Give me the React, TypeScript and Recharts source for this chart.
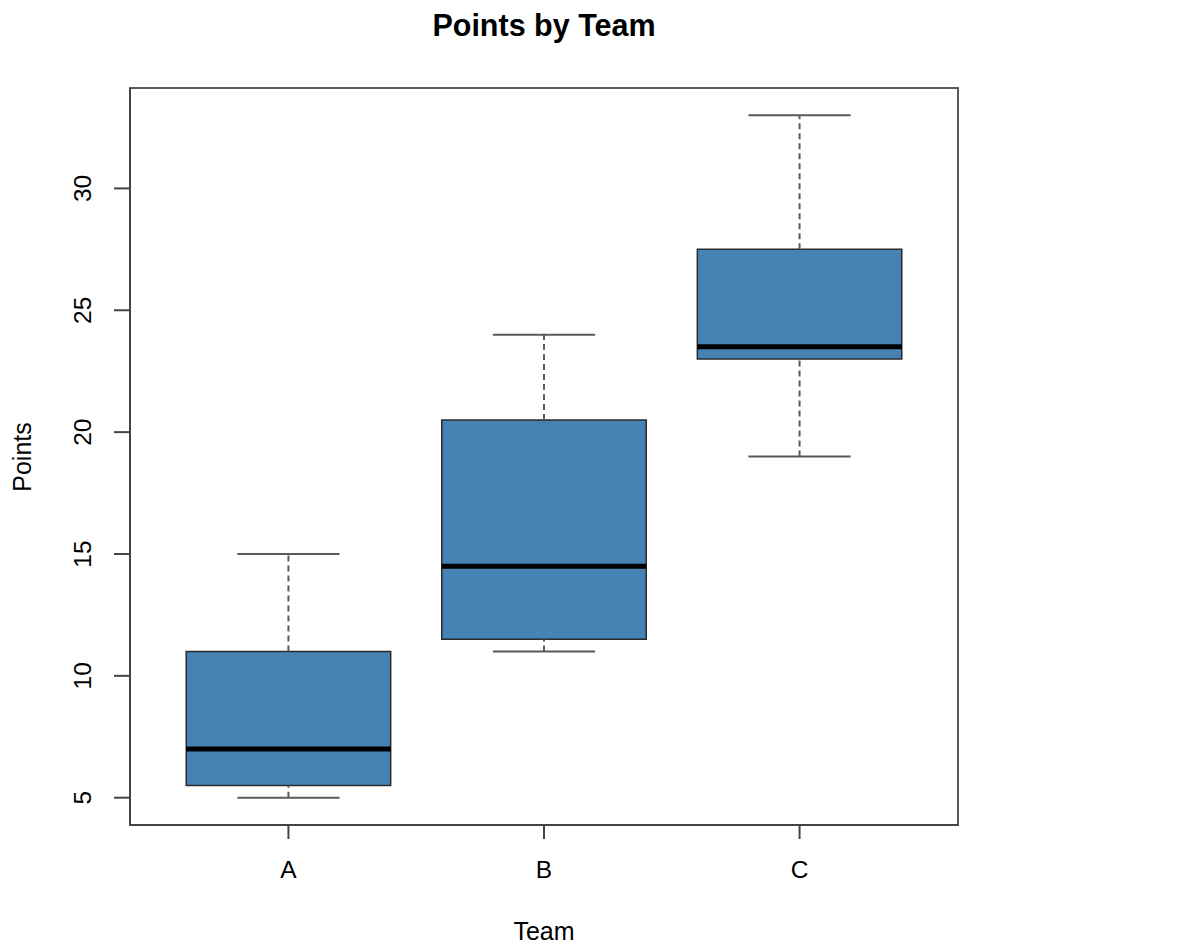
import React from 'react';
import {
  ComposedChart,
  XAxis,
  YAxis,
  ReferenceArea,
  ReferenceLine,
  Scatter,
  Customized,
} from 'recharts';

// ---- data ----
const teams = ['A', 'B', 'C'];
const mins = [5, 11, 19];
const q1s = [5.5, 11.5, 23];
const medians = [7, 14.5, 23.5];
const q3s = [11, 20.5, 27.5];
const maxs = [15, 24, 33];
const yTicks = [5, 10, 15, 20, 25, 30];
const xTicks = [1, 2, 3];

const data = teams.map((team, i) => ({
  x: i + 1,
  team,
  min: mins[i],
  q1: q1s[i],
  median: medians[i],
  q3: q3s[i],
  max: maxs[i],
}));

// ---- style ----
const FONT = '"Liberation Sans", Arial, Helvetica, sans-serif';
const BOX_FILL = '#4682B4';
const BOX_STROKE = '#2b2b2b';
const WHISKER = '#5a5a5a';
const FRAME = '#5a5a5a';
const BOX_HALF = 0.4;
const CAP_HALF = 0.2;
const X_DOMAIN: [number, number] = [0.38, 3.62];
const Y_DOMAIN: [number, number] = [3.88, 34.12];

const YTick = (props: any) => {
  const { y, payload } = props;
  const bx = 83;
  return (
    <text
      x={bx}
      y={y}
      transform={`rotate(-90, ${bx}, ${y})`}
      textAnchor="middle"
      fontSize={24.5}
      fontFamily={FONT}
      fill="#000"
    >
      {payload.value}
    </text>
  );
};

const XTick = (props: any) => {
  const { x, payload } = props;
  return (
    <text x={x} y={870} textAnchor="middle" fontSize={24.5} fontFamily={FONT} fill="#000">
      {teams[payload.value - 1]}
    </text>
  );
};

const Titles = () => (
  <g>
    <text x={536} y={28} textAnchor="middle" fontSize={30.5} fontWeight="bold" fontFamily={FONT} fill="#000">
      Points by Team
    </text>
    <text x={536} y={932} textAnchor="middle" fontSize={25} fontFamily={FONT} fill="#000">
      Team
    </text>
    <text
      x={23}
      y={449}
      transform="rotate(-90, 23, 449)"
      textAnchor="middle"
      fontSize={25}
      fontFamily={FONT}
      fill="#000"
    >
      Points
    </text>
  </g>
);

export default function App() {
  return (
    <ComposedChart
      width={1175}
      height={937}
      data={data}
      margin={{ top: 80, right: 225, left: 0, bottom: 0 }}
      style={{ background: '#fff' }}
    >
      <XAxis
        dataKey="x"
        type="number"
        domain={X_DOMAIN}
        ticks={xTicks}
        allowDataOverflow
        height={120}
        tickSize={14}
        tick={<XTick />}
        tickLine={{ stroke: '#444', strokeWidth: 2 }}
        axisLine={{ stroke: '#444', strokeWidth: 2 }}
      />
      <YAxis
        type="number"
        domain={Y_DOMAIN}
        ticks={yTicks}
        allowDataOverflow
        width={122}
        tickSize={16}
        tick={<YTick />}
        tickLine={{ stroke: '#444', strokeWidth: 2 }}
        axisLine={{ stroke: '#444', strokeWidth: 2 }}
      />
      <ReferenceArea
        x1={X_DOMAIN[0]}
        x2={X_DOMAIN[1]}
        y1={Y_DOMAIN[0]}
        y2={Y_DOMAIN[1]}
        fill="none"
        fillOpacity={0}
        stroke={FRAME}
        strokeWidth={2}
        ifOverflow="visible"
      />
      {data.map((d) => (
        <ReferenceArea
          key={`box-${d.team}`}
          x1={d.x - BOX_HALF}
          x2={d.x + BOX_HALF}
          y1={d.q1}
          y2={d.q3}
          fill={BOX_FILL}
          fillOpacity={1}
          stroke={BOX_STROKE}
          strokeWidth={1.5}
          ifOverflow="visible"
        />
      ))}
      {data.map((d) => (
        <ReferenceLine
          key={`wu-${d.team}`}
          segment={[{ x: d.x, y: d.q3 }, { x: d.x, y: d.max }]}
          stroke={WHISKER}
          strokeWidth={2}
          strokeDasharray="6 4"
          ifOverflow="visible"
        />
      ))}
      {data.map((d) => (
        <ReferenceLine
          key={`wl-${d.team}`}
          segment={[{ x: d.x, y: d.min }, { x: d.x, y: d.q1 }]}
          stroke={WHISKER}
          strokeWidth={2}
          strokeDasharray="6 4"
          ifOverflow="visible"
        />
      ))}
      {data.map((d) => (
        <ReferenceLine
          key={`cu-${d.team}`}
          segment={[{ x: d.x - CAP_HALF, y: d.max }, { x: d.x + CAP_HALF, y: d.max }]}
          stroke={WHISKER}
          strokeWidth={2}
          ifOverflow="visible"
        />
      ))}
      {data.map((d) => (
        <ReferenceLine
          key={`cl-${d.team}`}
          segment={[{ x: d.x - CAP_HALF, y: d.min }, { x: d.x + CAP_HALF, y: d.min }]}
          stroke={WHISKER}
          strokeWidth={2}
          ifOverflow="visible"
        />
      ))}
      {data.map((d) => (
        <ReferenceLine
          key={`med-${d.team}`}
          segment={[{ x: d.x - BOX_HALF, y: d.median }, { x: d.x + BOX_HALF, y: d.median }]}
          stroke="#000"
          strokeWidth={5}
          ifOverflow="visible"
        />
      ))}
      <Scatter dataKey="median" shape={() => <g />} isAnimationActive={false} />
      <Customized component={<Titles />} />
    </ComposedChart>
  );
}
